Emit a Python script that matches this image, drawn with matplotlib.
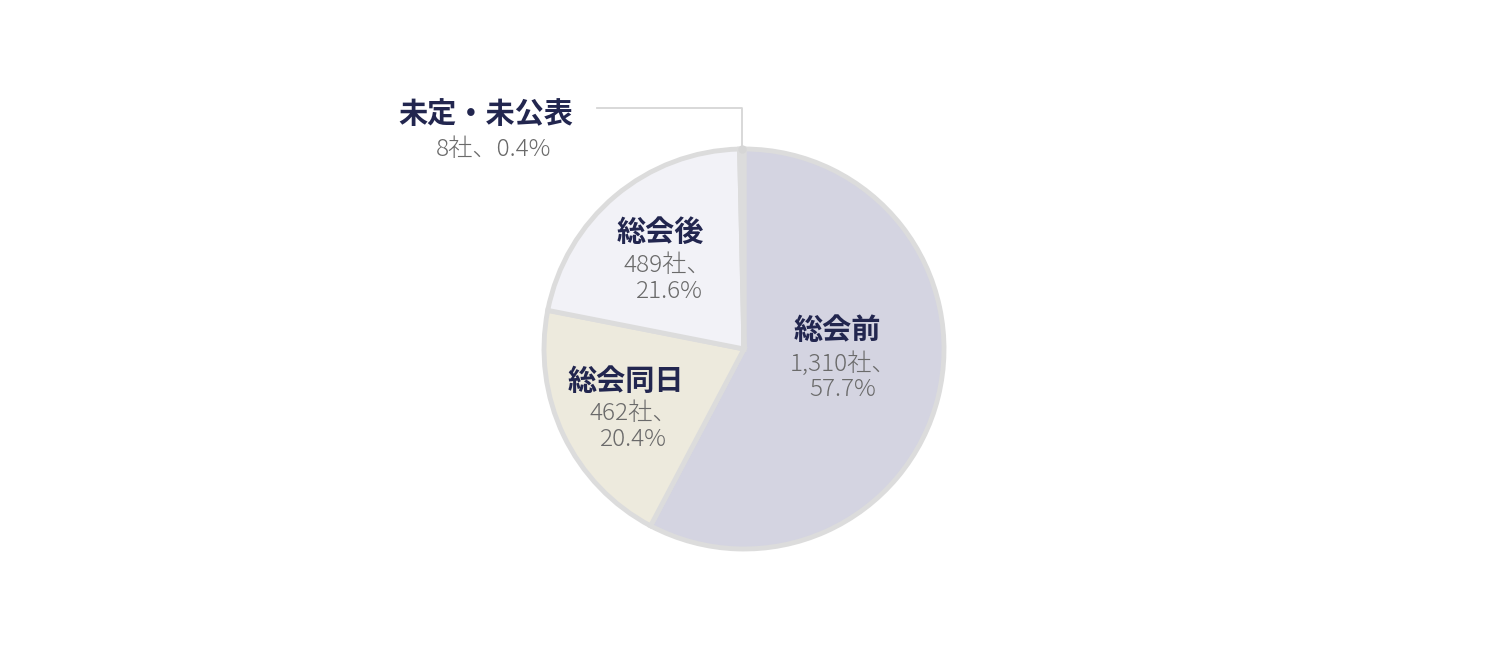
import matplotlib
matplotlib.use("Agg")
import matplotlib.pyplot as plt
import numpy as np

plt.rcParams['font.family'] = ['Noto Sans CJK JP', 'DejaVu Sans']

categories = ["総会前", "総会同日", "総会後", "未定・未公表"]
counts = [1310, 462, 489, 8]
percents = ["57.7%", "20.4%", "21.6%", "0.4%"]
count_labels = ["1,310社、", "462社、", "489社、", "8社、"]

colors = ["#d4d4e1", "#edeadd", "#f2f2f7", "#f2f2f7"]
edge = "#dcdcdc"
title_color = "#22264f"
value_color = "#6a6a6a"

W, H = 1490, 650
fig = plt.figure(figsize=(W / 100, H / 100), dpi=100)
cx, cy, R = 744, 349, 200
half = 1.25 * R
ax = fig.add_axes([(cx - half) / W, (H - cy - half) / H, 2 * half / W, 2 * half / H])
ax.set_xlim(-1.25, 1.25)
ax.set_ylim(-1.25, 1.25)
ax.set_aspect('equal')
ax.axis('off')

wedges, _ = ax.pie(counts, colors=colors, startangle=90, counterclock=False,
                   radius=1.0, wedgeprops=dict(edgecolor=edge, linewidth=3.5))

def d(px, py):
    return ((px - cx) / R, (cy - py) / R)

VFS = 17.5
# label layout (pixel positions of title / line1 / line2)
layout = {
    0: [(837, 330), (843, 364), (843, 389)],
    1: [(626, 381), (633, 414), (633, 439)],
    2: [(660, 232), (667, 266), (669, 292)],
}
for i, pos in layout.items():
    x, y = d(*pos[0])
    ax.text(x, y, categories[i], ha='center', va='center', fontsize=21,
            fontweight='bold', color=title_color)
    x, y = d(*pos[1])
    ax.text(x, y, count_labels[i], ha='center', va='center', fontsize=VFS,
            fontweight='light', color=value_color)
    x, y = d(*pos[2])
    ax.text(x, y, percents[i], ha='center', va='center', fontsize=VFS,
            fontweight='light', color=value_color)

# small slice with leader line
total = sum(counts)
mid = 90 - 360 * (sum(counts[:3]) + counts[3] / 2) / total
ang = np.deg2rad(mid)
px_, py_ = np.cos(ang), np.sin(ang)
ly = d(0, 108)[1]
lx0 = d(597, 0)[0]
ax.plot([lx0, px_, px_], [ly, ly, py_], color="#d6d6d6", lw=1.3, clip_on=False)
ax.plot([px_], [py_], 'o', color="#d6d6d6", ms=5, clip_on=False)
x, y = d(486, 114)
ax.text(x, y, categories[3], ha='center', va='center', fontsize=21,
        fontweight='bold', color=title_color)
x, y = d(494, 149)
ax.text(x, y, count_labels[3] + percents[3], ha='center', va='center', fontsize=VFS,
        fontweight='light', color=value_color)

fig.savefig("out.png", dpi=100, facecolor='white')
